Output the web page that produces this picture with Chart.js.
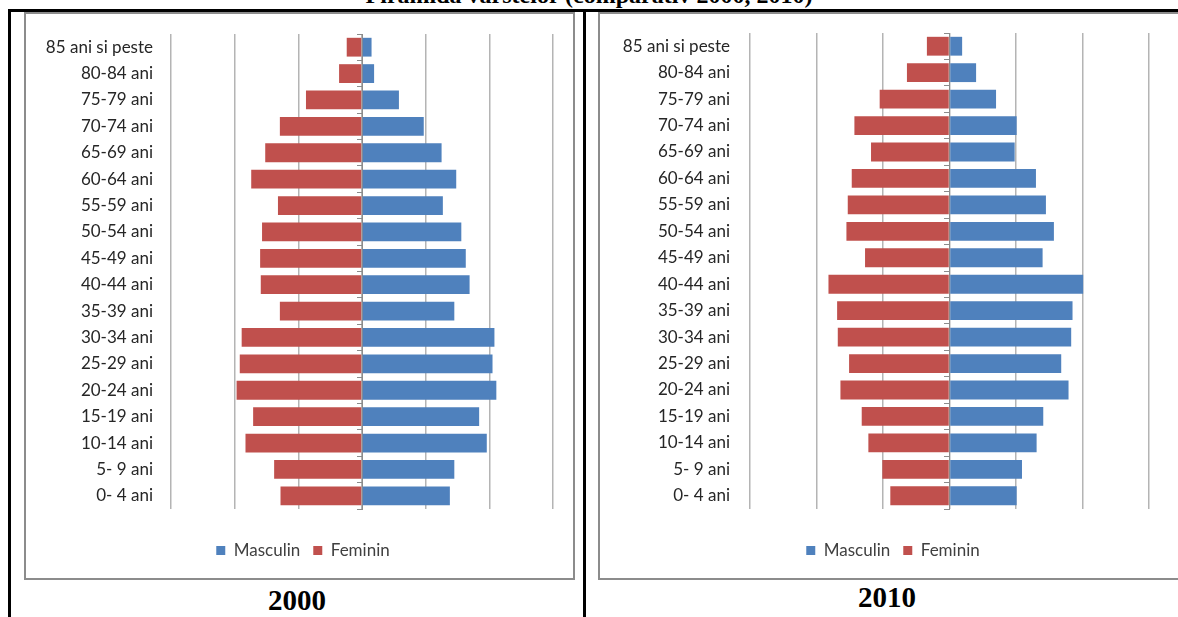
<!DOCTYPE html>
<html>
<head>
<meta charset="utf-8">
<script src="https://cdn.jsdelivr.net/npm/chart.js@4.4.0/dist/chart.umd.min.js"></script>
<style>
  body { margin: 0; background: #fff; width: 1178px; height: 617px; overflow: hidden; position: relative; }
  .line { position: absolute; background: #000; }
  .frame { position: absolute; box-sizing: border-box; border: 2px solid #8c8c8c; }
  canvas { position: absolute; }
  .title { position: absolute; left: 0; width: 1178px; top: -17px; text-align: center;
           font: bold 24px "Liberation Serif", "Times New Roman", serif; line-height: 24px; }
  .year { position: absolute; width: 200px; text-align: center;
          font: bold 29px "Liberation Serif", "Times New Roman", serif; line-height: 29px; }
</style>
</head>
<body>
<div class="title">Piramida vârstelor (comparativ 2000, 2010)</div>
<div class="line" style="left:8px; top:9px; width:1170px; height:3px;"></div>
<div class="line" style="left:8px; top:9px; width:3px; height:608px;"></div>
<div class="line" style="left:583px; top:9px; width:3px; height:608px;"></div>

<div class="frame" style="left:24px; top:12px; width:551px; height:568px;"></div>
<div class="frame" style="left:598px; top:12px; width:700px; height:568px;"></div>

<canvas id="chart2000" width="554" height="562" style="left:26px; top:15px;"></canvas>
<canvas id="chart2010" width="584" height="562" style="left:601px; top:15px;"></canvas>

<div class="year" style="left:197px; top:586px;">2000</div>
<div class="year" style="left:787px; top:583px;">2010</div>

<script>
// age groups, top to bottom
const ages = ['85 ani si peste', '80-84 ani', '75-79 ani', '70-74 ani', '65-69 ani', '60-64 ani',
              '55-59 ani', '50-54 ani', '45-49 ani', '40-44 ani', '35-39 ani', '30-34 ani',
              '25-29 ani', '20-24 ani', '15-19 ani', '10-14 ani', '5- 9 ani', '0- 4 ani'];

// values, one gridline = 1 unit
const masc2000 = [0.15, 0.19, 0.58, 0.97, 1.25, 1.48, 1.27, 1.56, 1.63, 1.69, 1.45, 2.08, 2.05, 2.11, 1.84, 1.96, 1.45, 1.38];
const fem2000  = [0.24, 0.36, 0.88, 1.29, 1.52, 1.74, 1.32, 1.57, 1.60, 1.59, 1.29, 1.89, 1.92, 1.97, 1.71, 1.83, 1.38, 1.28];
const masc2010 = [0.19, 0.40, 0.70, 1.01, 0.98, 1.30, 1.45, 1.57, 1.40, 2.01, 1.85, 1.83, 1.68, 1.79, 1.41, 1.31, 1.09, 1.01];
const fem2010  = [0.34, 0.64, 1.05, 1.43, 1.18, 1.47, 1.53, 1.55, 1.27, 1.82, 1.69, 1.68, 1.51, 1.64, 1.32, 1.22, 1.01, 0.89];

const xTicks = [-3, -2, -1, 0, 1, 2, 3];

const blue = '#4F81BD';
const red = '#C0504D';

function makePyramid(canvasId, masc, fem, labelWidth, labelPad, rightPad, topPad) {
    return new Chart(document.getElementById(canvasId).getContext('2d'), {
        type: 'bar',
        data: {
            labels: ages,
            datasets: [{
                label: 'Masculin',
                data: masc,
                backgroundColor: blue,
                xAxisID: 'x',
                yAxisID: 'y',
                categoryPercentage: 0.8,
                barPercentage: 0.89
            }, {
                label: 'Feminin',
                data: fem.map(v => -v),
                backgroundColor: red,
                xAxisID: 'x',
                yAxisID: 'y',
                categoryPercentage: 0.8,
                barPercentage: 0.89
            }]
        },
        options: {
            indexAxis: 'y',
            responsive: false,
            animation: false,
            layout: { padding: { top: topPad, right: 0, bottom: 8, left: 0 } },
            scales: {
                x: {
                    stacked: true,
                    min: xTicks[0],
                    max: xTicks[xTicks.length - 1],
                    afterBuildTicks: scale => { scale.ticks = xTicks.map(v => ({ value: v })); },
                    afterFit: scale => { scale.height = 20; },
                    ticks: { display: false },
                    border: { display: false },
                    grid: { color: '#b4b4b4', lineWidth: 1.5, drawTicks: false }
                },
                y: {
                    stacked: true,
                    afterFit: scale => {
                        scale.width = labelWidth;
                        scale.paddingTop = 0;
                        scale.paddingBottom = 0;
                    },
                    border: { display: false },
                    grid: { display: false },
                    ticks: {
                        padding: labelPad,
                        color: '#262626',
                        font: { family: 'Lato', size: 17 }
                    }
                },
                // center axis line with tick marks
                y2: {
                    type: 'category',
                    axis: 'y',
                    labels: ages,
                    offset: true,
                    position: { x: 0 },
                    ticks: { display: false },
                    border: { display: true, color: '#8c8c8c', width: 1 },
                    grid: { offset: true, drawOnChartArea: false, drawTicks: true, tickLength: 5, color: '#8c8c8c' }
                },
                // empty right margin so the legend stays centred in the frame
                yRight: {
                    type: 'category',
                    axis: 'y',
                    labels: ages,
                    position: 'right',
                    afterFit: scale => { scale.width = rightPad; },
                    ticks: { display: false },
                    border: { display: false },
                    grid: { display: false }
                }
            },
            plugins: {
                legend: {
                    position: 'bottom',
                    labels: {
                        boxWidth: 9,
                        boxHeight: 9,
                        padding: 13,
                        color: '#404040',
                        font: { family: 'Lato', size: 17 }
                    }
                },
                tooltip: { enabled: false }
            }
        }
    });
}

makePyramid('chart2000', masc2000, fem2000, 145, 10, 27, 19);
makePyramid('chart2010', masc2010, fem2010, 149, 12, 36, 18);
</script>
</body>
</html>
